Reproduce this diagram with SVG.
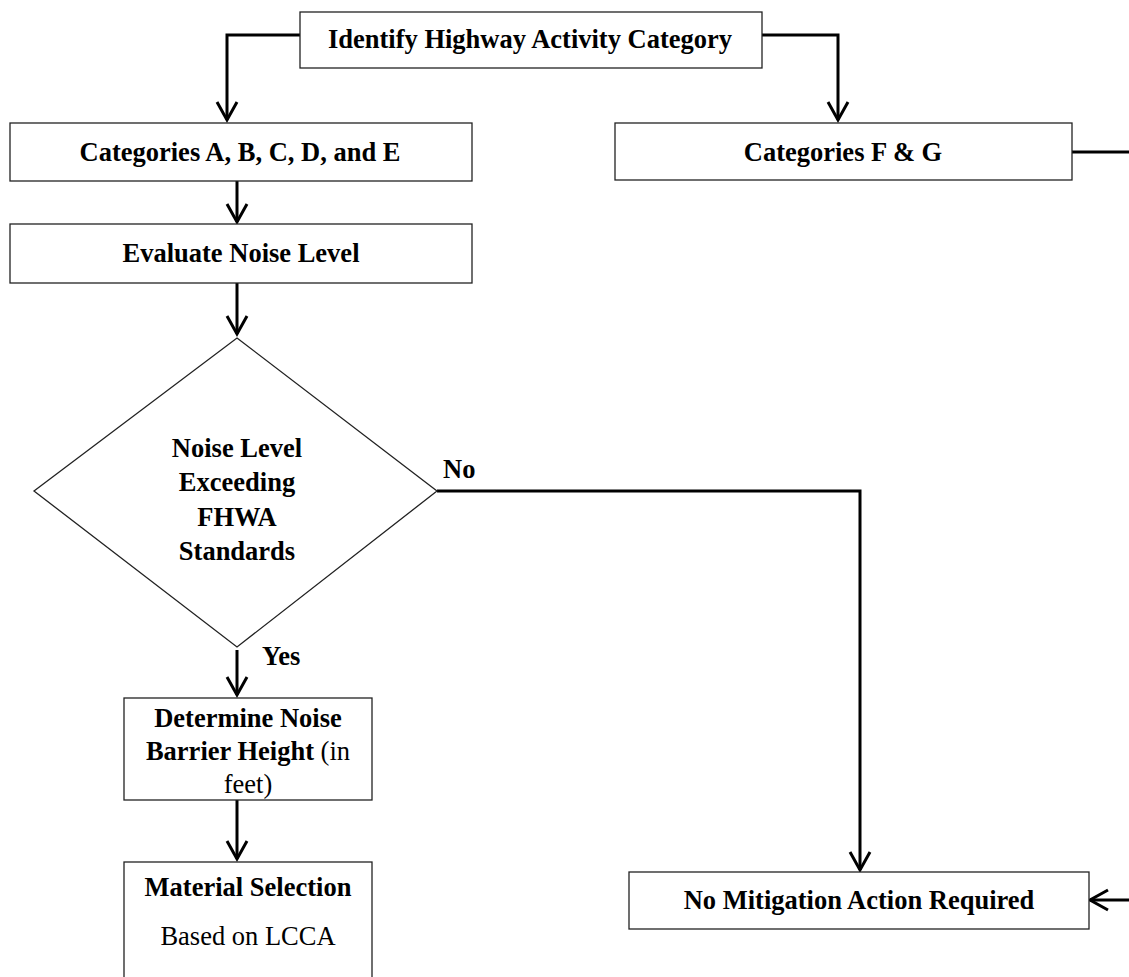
<svg xmlns="http://www.w3.org/2000/svg" width="1129" height="977" viewBox="0 0 1129 977">
  <style>
    .box { fill: #fff; stroke: #222; stroke-width: 1.3; }
    .lbl { font-family: "Liberation Serif", "Times New Roman", serif; font-size: 26.5px; font-weight: bold; fill: #000; text-anchor: middle; }
    .start { text-anchor: start; }
    .reg { font-weight: normal; }
    .wire { fill: none; stroke: #000; stroke-width: 3; }
    .head { fill: none; stroke: #000; stroke-width: 3; stroke-linejoin: miter; }
  </style>
  <rect width="1129" height="977" fill="#fff"/>

  <g id="connectors">
    <!-- top box to left branch -->
    <path class="wire" d="M300,35 H227 V120"/>
    <path class="head" d="M217,102 L227,120 L237,102"/>
    <!-- top box to right branch -->
    <path class="wire" d="M762,35 H838 V120"/>
    <path class="head" d="M828,102 L838,120 L848,102"/>
    <!-- categories A-E to evaluate -->
    <path class="wire" d="M237,181 V222"/>
    <path class="head" d="M227,204 L237,222 L247,204"/>
    <!-- evaluate to decision -->
    <path class="wire" d="M237,283 V334"/>
    <path class="head" d="M227,316 L237,334 L247,316"/>
    <!-- decision: No -->
    <path class="wire" d="M437,491 H860 V870"/>
    <path class="head" d="M850,852 L860,870 L870,852"/>
    <!-- decision: Yes -->
    <path class="wire" d="M237,650 V695"/>
    <path class="head" d="M227,677 L237,695 L247,677"/>
    <!-- barrier height to material -->
    <path class="wire" d="M237,800 V859"/>
    <path class="head" d="M227,841 L237,859 L247,841"/>
    <!-- categories F & G around the right edge -->
    <path class="wire" d="M1072,152 H1129"/>
    <path class="wire" d="M1129,900 H1090"/>
    <path class="head" d="M1108,890 L1090,900 L1108,910"/>
  </g>

  <g id="identify">
    <rect class="box" x="300" y="12" width="462" height="56"/>
    <text class="lbl" x="530" y="48">Identify Highway Activity Category</text>
  </g>

  <g id="cat-abcde">
    <rect class="box" x="10" y="123" width="462" height="58"/>
    <text class="lbl" x="240" y="161">Categories A, B, C, D, and E</text>
  </g>

  <g id="cat-fg">
    <rect class="box" x="615" y="123" width="457" height="57"/>
    <text class="lbl" x="843" y="161">Categories F &amp; G</text>
  </g>

  <g id="evaluate">
    <rect class="box" x="10" y="224" width="462" height="59"/>
    <text class="lbl" x="241" y="262">Evaluate Noise Level</text>
  </g>

  <g id="decision">
    <polygon class="box" points="237,338 437,491 237,647 34,491"/>
    <text class="lbl" x="237" y="457">Noise Level</text>
    <text class="lbl" x="237" y="491">Exceeding</text>
    <text class="lbl" x="237" y="526">FHWA</text>
    <text class="lbl" x="237" y="560">Standards</text>
    <text class="lbl start" x="443" y="478">No</text>
    <text class="lbl start" x="262" y="665">Yes</text>
  </g>

  <g id="barrier">
    <rect class="box" x="124" y="698" width="248" height="102"/>
    <text class="lbl" x="248" y="727">Determine Noise</text>
    <text class="lbl" x="248" y="760">Barrier Height <tspan class="reg">(in</tspan></text>
    <text class="lbl reg" x="248" y="793">feet)</text>
  </g>

  <g id="material">
    <rect class="box" x="124" y="862" width="248" height="125"/>
    <text class="lbl" x="248" y="896">Material Selection</text>
    <text class="lbl reg" x="248" y="945">Based on LCCA</text>
  </g>

  <g id="no-mitigation">
    <rect class="box" x="629" y="872" width="460" height="57"/>
    <text class="lbl" x="859" y="909">No Mitigation Action Required</text>
  </g>
</svg>
